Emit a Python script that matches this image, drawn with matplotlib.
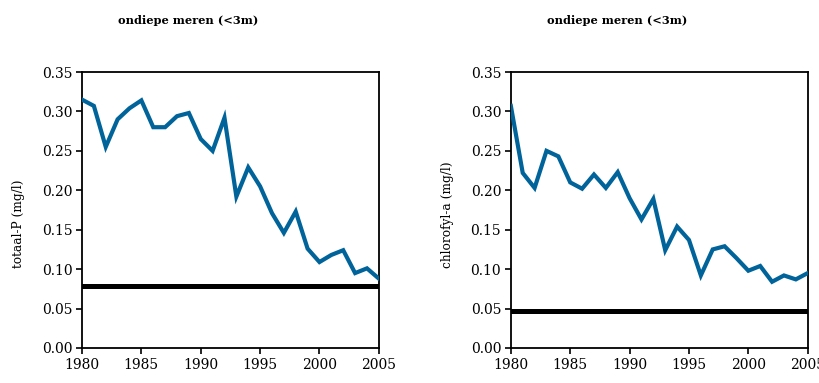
import matplotlib
matplotlib.use('Agg')
import matplotlib.pyplot as plt

# ---   DATA   --- #
years = list(range(1980, 2006))
totaal_p = [0.315, 0.307, 0.255, 0.290, 0.304, 0.314, 0.280, 0.280, 0.294, 0.298,
            0.265, 0.250, 0.292, 0.192, 0.229, 0.205, 0.171, 0.146, 0.173, 0.126,
            0.109, 0.118, 0.124, 0.095, 0.101, 0.088]
chlorofyl = [0.307, 0.222, 0.203, 0.250, 0.243, 0.210, 0.202, 0.220, 0.203, 0.223,
             0.190, 0.163, 0.189, 0.124, 0.154, 0.137, 0.092, 0.125, 0.129, 0.114,
             0.098, 0.104, 0.084, 0.092, 0.087, 0.095]
norm_p = 0.078
norm_chl = 0.047
titles = ['ondiepe meren (<3m)', 'ondiepe meren (<3m)']
ylabels = ['totaal-P (mg/l)', 'chlorofyl-a (mg/l)']
yticks = [0.0, 0.05, 0.10, 0.15, 0.20, 0.25, 0.30, 0.35]
xticks = [1980, 1985, 1990, 1995, 2000, 2005]

plt.rcParams['font.family'] = 'DejaVu Serif'

fig = plt.figure(figsize=(8.2, 3.83), dpi=100)
ax1 = fig.add_axes([0.100, 0.0914, 0.362, 0.7206])
ax2 = fig.add_axes([0.623, 0.0914, 0.362, 0.7206])

for ax, vals, norm, ylab in [(ax1, totaal_p, norm_p, ylabels[0]),
                             (ax2, chlorofyl, norm_chl, ylabels[1])]:
    ax.plot(years, vals, color='#00639a', lw=3.0, solid_joinstyle='miter', zorder=3)
    ax.axhline(norm, color='black', lw=3.6, zorder=2)
    ax.set_xlim(1980, 2005)
    ax.set_ylim(0, 0.35)
    ax.set_xticks(xticks)
    ax.set_yticks(yticks)
    ax.set_yticklabels(['%.2f' % v for v in yticks])
    ax.tick_params(axis='both', direction='out', length=4, width=1.2,
                   labelsize=10, top=False, right=False, pad=3)
    for sp in ax.spines.values():
        sp.set_linewidth(1.3)
    # y label anchored at its lower end, as in the reference
    ax.set_ylabel(ylab, fontsize=8.7)
    ax.yaxis.label.set_rotation_mode('anchor')
    ax.yaxis.label.set_horizontalalignment('left')
    ax.yaxis.label.set_verticalalignment('center')
    ax.yaxis.set_label_coords(-0.215, 0.29)

fig.text(188 / 820, 1 - 20 / 383, titles[0], ha='center', va='center',
         fontsize=8.2, fontweight='bold')
fig.text(617 / 820, 1 - 20 / 383, titles[1], ha='center', va='center',
         fontsize=8.2, fontweight='bold')

plt.savefig('out.png', dpi=100)
